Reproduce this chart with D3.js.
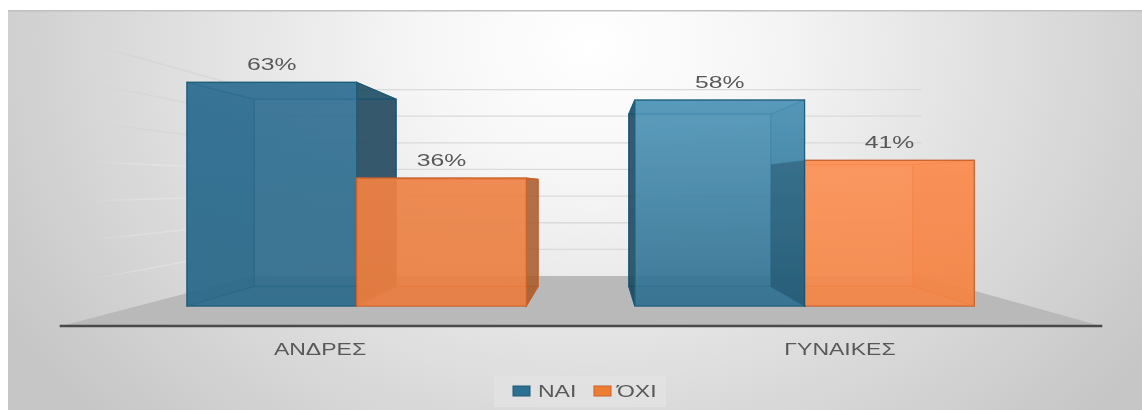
<!DOCTYPE html>
<html lang="el">
<head>
<meta charset="UTF-8">
<title>ΑΝΔΡΕΣ / ΓΥΝΑΙΚΕΣ</title>
<script src="https://d3js.org/d3.v7.min.js"></script>
<style>
    html, body { margin: 0; padding: 0; background: #fff; overflow: hidden; }
    text { font-family: "Liberation Sans", Arial, sans-serif; font-size: 16.5px; fill: #595959; }
</style>
</head>
<body>
<div id="chart"></div>
<script>
    const categories = ["ΑΝΔΡΕΣ", "ΓΥΝΑΙΚΕΣ"];
    const seriesNames = ["ΝΑΙ", "ΌΧΙ"];
    const naiValues = [63, 58];
    const oxiValues = [36, 41];
    const gridTicks = [10, 20, 30, 40, 50, 60, 70];

    const W = 1142, H = 410;
    const stretch = 1.5;  // the original picture is stretched sideways

    // perspective: everything shrinks towards this point
    const vanish = { x: 598, y: 186 };
    const floorDrop = 140;
    const depth = { front: 1, barFront: 0.857, barBack: 0.717, back: 0.643, wallEnd: 0.94 };

    const floorRange = [-537, 503];
    const labelX = d3.scaleBand().domain(categories).range(floorRange);
    const x0 = d3.scaleBand().domain(categories).range([-542.9, 502.3]);
    const gap = 63.3;
    const x1 = d3.scaleBand().domain(seriesNames).range([gap, x0.bandwidth() - gap]);
    const y = d3.scaleLinear().domain([0, 70]).range([0, 290]);

    function project(wx, v, s) {
        return [vanish.x + wx * s, vanish.y + (floorDrop - y(v)) * s];
    }
    const poly = d3.line();

    const svg = d3.select("#chart").append("svg").attr("width", W).attr("height", H);
    const defs = svg.append("defs");

    const bg = defs.append("radialGradient").attr("id", "bg")
        .attr("gradientUnits", "userSpaceOnUse")
        .attr("cx", 0).attr("cy", 0).attr("r", 1)
        .attr("gradientTransform", "translate(590,45) scale(680,540)");
    bg.append("stop").attr("offset", 0).attr("stop-color", "#ffffff");
    bg.append("stop").attr("offset", 0.25).attr("stop-color", "#f6f6f6");
    bg.append("stop").attr("offset", 1).attr("stop-color", "#c6c6c6");

    defs.append("filter").attr("id", "soft")
        .attr("filterUnits", "userSpaceOnUse")
        .attr("x", 0).attr("y", 0).attr("width", W).attr("height", H)
        .append("feGaussianBlur").attr("stdDeviation", 0.6);

    // upper wall lines are a little darker than the wall, lower ones a little lighter
    [["wallDark", "#d6d2cf", 0.7], ["wallLight", "#f0f0f0", 0.35]].forEach(([id, color, strength]) => {
        const fade = defs.append("linearGradient").attr("id", id)
            .attr("gradientUnits", "userSpaceOnUse")
            .attr("x1", 253).attr("x2", 90).attr("y1", 0).attr("y2", 0);
        fade.append("stop").attr("offset", 0).attr("stop-color", color).attr("stop-opacity", strength);
        fade.append("stop").attr("offset", 0.7).attr("stop-color", color).attr("stop-opacity", strength);
        fade.append("stop").attr("offset", 1).attr("stop-color", color).attr("stop-opacity", 0);
    });

    // front face colours, top to bottom, by category then series
    const frontColors = {
        "ΑΝΔΡΕΣ": { "ΝΑΙ": ["#2f6f94", "#2c6a8a"], "ΌΧΙ": ["#ee8245", "#ea7e41"] },
        "ΓΥΝΑΙΚΕΣ": { "ΝΑΙ": ["#4f95b8", "#2f6f90"], "ΌΧΙ": ["#fd8f54", "#f58646"] }
    };
    const outerColors = { "ΝΑΙ": "#1a4258", "ΌΧΙ": "#a85a2c" };
    const edgeColors = { "ΝΑΙ": "#1c5a78", "ΌΧΙ": "#c9622a" };
    const legendColors = { "ΝΑΙ": "#2f6f92", "ΌΧΙ": "#ed7d31" };

    categories.forEach((c, i) => {
        seriesNames.forEach(name => {
            const g = defs.append("linearGradient")
                .attr("id", `front${i}${seriesNames.indexOf(name)}`)
                .attr("x1", 0).attr("x2", 0).attr("y1", 0).attr("y2", 1);
            g.append("stop").attr("offset", 0).attr("stop-color", frontColors[c][name][0]);
            g.append("stop").attr("offset", 1).attr("stop-color", frontColors[c][name][1]);
        });
    });

    const root = svg.append("g").attr("filter", "url(#soft)");

    root.append("rect").attr("x", 8).attr("y", 10)
        .attr("width", W - 8).attr("height", H - 10).attr("fill", "url(#bg)");
    root.append("rect").attr("x", 8).attr("y", 10)
        .attr("width", W - 8).attr("height", 1.5).attr("fill", "#c0c0c0");

    const [xMin, xMax] = floorRange;

    // floor
    root.append("path")
        .attr("d", poly([
            project(xMin, 0, depth.front), project(xMin, 0, depth.back),
            project(xMax, 0, depth.back), project(xMax, 0, depth.front)
        ]) + "Z")
        .attr("fill", "#b9b9b9");

    // grid lines on the back wall
    root.selectAll(".grid").data(gridTicks).join("path")
        .attr("class", "grid")
        .attr("d", t => poly([project(xMin, t, depth.back), project(xMax, t, depth.back)]))
        .attr("stroke", "#dadada").attr("stroke-width", 1.3).attr("fill", "none");

    // same lines running forward on the left wall
    root.selectAll(".wall").data(gridTicks).join("path")
        .attr("class", "wall")
        .attr("d", t => poly([project(xMin, t, depth.back), project(xMin, t, depth.wallEnd)]))
        .attr("stroke", t => t >= 50 ? "url(#wallDark)" : "url(#wallLight)")
        .attr("stroke-width", 1.3).attr("fill", "none");

    // axis line
    root.append("path")
        .attr("d", poly([project(xMin, 0, depth.front), project(xMax, 0, depth.front)]))
        .attr("stroke", "#4a4a4a").attr("stroke-width", 2.6).attr("stroke-linecap", "square");

    function drawBar(catIndex, name, value) {
        const cat = categories[catIndex];
        const a = x0(cat) + x1(name);
        const b = a + x1.bandwidth();
        const sf = depth.barFront, sb = depth.barBack;
        const g = root.append("g").attr("class", "bar");
        const face = (pts, fill, opacity) => g.append("path")
            .attr("d", poly(pts) + "Z")
            .attr("fill", fill).attr("fill-opacity", opacity)
            .attr("stroke", edgeColors[name]).attr("stroke-width", 1.2)
            .attr("stroke-opacity", 0.85);

        const edge = edgeColors[name], outer = outerColors[name];
        const sideFace = wx => {
            const pts = [project(wx, 0, sf), project(wx, 0, sb), project(wx, value, sb), project(wx, value, sf)];
            // a side that turns away from the centre is seen from outside, so it is dark
            const outside = project(wx, 0, sb)[0] > project(wx, 0, sf)[0] ? wx === b : wx === a;
            face(pts, outside ? outer : edge, outside ? 0.85 : 0.5);
        };

        face([project(a, 0, sb), project(b, 0, sb), project(b, value, sb), project(a, value, sb)], edge, 0.12);
        face([project(a, 0, sf), project(b, 0, sf), project(b, 0, sb), project(a, 0, sb)], edge, 0.25);
        sideFace(a);
        sideFace(b);
        face([project(a, value, sf), project(b, value, sf), project(b, value, sb), project(a, value, sb)], edge, 0.3);
        face([project(a, 0, sf), project(b, 0, sf), project(b, value, sf), project(a, value, sf)],
            `url(#front${catIndex}${seriesNames.indexOf(name)})`, 0.9);

        const top = project((a + b) / 2, value, sf);
        root.append("text")
            .attr("transform", `translate(${top[0]},${top[1] - 12}) scale(${stretch},1)`)
            .attr("text-anchor", "middle")
            .text(`${value}%`);
    }

    // painted from the outside in, so the faces next to the centre stay on top
    drawBar(0, "ΝΑΙ", naiValues[0]);
    drawBar(0, "ΌΧΙ", oxiValues[0]);
    drawBar(1, "ΌΧΙ", oxiValues[1]);
    drawBar(1, "ΝΑΙ", naiValues[1]);

    // the orange side seen through the blue bar darkens it
    const hidden = x0(categories[1]) + x1("ΌΧΙ");
    root.append("path")
        .attr("d", poly([
            project(hidden, 0, depth.barFront), project(hidden, 0, depth.barBack),
            project(hidden, oxiValues[1], depth.barBack), project(hidden, oxiValues[1], depth.barFront)
        ]) + "Z")
        .attr("fill", "#123a50").attr("fill-opacity", 0.3);

    // category labels
    categories.forEach(c => {
        const p = project(labelX(c) + labelX.bandwidth() / 2 - 1, 0, depth.front);
        root.append("text")
            .attr("transform", `translate(${p[0]},${p[1] + 29}) scale(${stretch * 0.93},1)`)
            .attr("text-anchor", "middle")
            .text(c);
    });

    // legend
    const legend = root.append("g").attr("transform", "translate(494,376)");
    legend.append("rect").attr("width", 172).attr("height", 31).attr("fill", "#e2e2e2").attr("fill-opacity", 0.8);
    const legendX = d3.scalePoint().domain(seriesNames).range([19, 100]);
    const items = legend.selectAll(".item").data(seriesNames).join("g")
        .attr("class", "item")
        .attr("transform", d => `translate(${legendX(d)},0)`);
    items.append("rect")
        .attr("y", 10).attr("width", 17).attr("height", 10)
        .attr("fill", d => legendColors[d])
        .attr("stroke", d => edgeColors[d]).attr("stroke-width", 1);
    items.append("text")
        .attr("transform", (d, i) => `translate(${i === 0 ? 25 : 23},21) scale(${stretch * 0.93},1)`)
        .text(d => d);
</script>
</body>
</html>
